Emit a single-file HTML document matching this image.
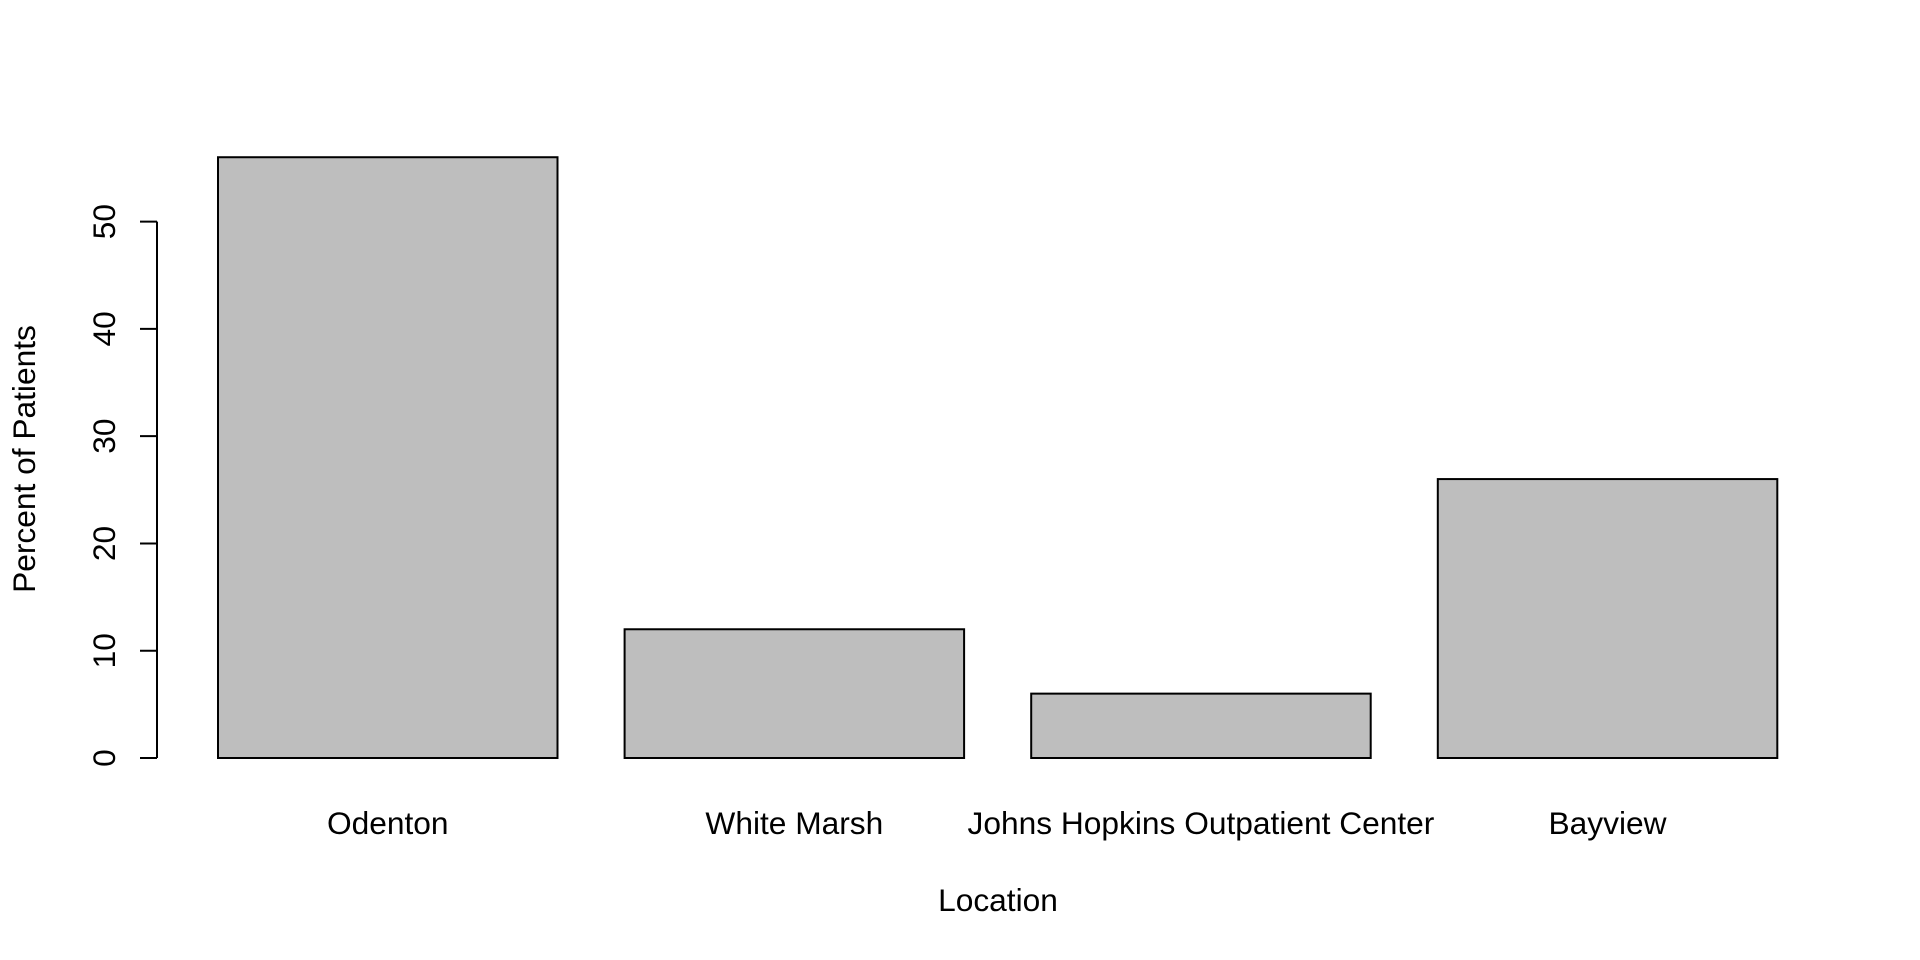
<!DOCTYPE html>
<html><head><meta charset="utf-8"><style>
html,body{margin:0;padding:0;background:#fff;}
svg{display:block;font-family:"Liberation Sans",Arial,sans-serif;}
</style></head><body>
<svg id="chart" width="1920" height="960" viewBox="0 0 1920 960" xmlns="http://www.w3.org/2000/svg">
<rect width="1920" height="960" fill="#fff"/>
<g id="bars"></g>
<g id="yaxis"></g>
<g id="xlabels"></g>
<text x="998" y="911" text-anchor="middle" font-size="31.7">Location</text>
<text transform="translate(35,459) rotate(-90)" text-anchor="middle" font-size="31.7">Percent of Patients</text>
</svg>
<script>
const categories = ["Odenton","White Marsh","Johns Hopkins Outpatient Center","Bayview"];
const values = [56, 12, 6, 26];
const yTicks = [0, 10, 20, 30, 40, 50];
const yTickLabels = ["0","10","20","30","40","50"];

const NS = "http://www.w3.org/2000/svg";
const y0px = 758, pxPerUnit = (758 - 221.6) / 50;
function yScale(v){ return y0px - v * pxPerUnit; }
const barStart = 218, barStep = 406.6, barWidth = 339.5;
function xLeft(i){ return barStart + i * barStep; }

const bars = document.getElementById('bars');
values.forEach((v, i) => {
  const r = document.createElementNS(NS, 'rect');
  r.setAttribute('x', xLeft(i));
  r.setAttribute('y', yScale(v));
  r.setAttribute('width', barWidth);
  r.setAttribute('height', yScale(0) - yScale(v));
  r.setAttribute('fill', '#bebebe');
  r.setAttribute('stroke', '#000');
  r.setAttribute('stroke-width', '2');
  
  
  bars.appendChild(r);
});

const xl = document.getElementById('xlabels');
categories.forEach((c, i) => {
  const t = document.createElementNS(NS, 'text');
  t.setAttribute('x', xLeft(i) + barWidth / 2);
  t.setAttribute('y', 834);
  t.setAttribute('text-anchor', 'middle');
  t.setAttribute('font-size', '31.7');
  t.textContent = c;
  
  
  xl.appendChild(t);
});

const ya = document.getElementById('yaxis');
const axisX = 157;
const line = document.createElementNS(NS, 'line');
line.setAttribute('x1', axisX); line.setAttribute('x2', axisX);
line.setAttribute('y1', yScale(yTicks[0])); line.setAttribute('y2', yScale(yTicks[yTicks.length - 1]));
line.setAttribute('stroke', '#000'); line.setAttribute('stroke-width', '2');


ya.appendChild(line);
yTicks.forEach((v, i) => {
  const tk = document.createElementNS(NS, 'line');
  tk.setAttribute('x1', axisX - 17); tk.setAttribute('x2', axisX);
  tk.setAttribute('y1', yScale(v)); tk.setAttribute('y2', yScale(v));
  tk.setAttribute('stroke', '#000'); tk.setAttribute('stroke-width', '2');
  
  
  ya.appendChild(tk);
  const t = document.createElementNS(NS, 'text');
  t.setAttribute('transform', 'translate(115,' + yScale(v) + ') rotate(-90)');
  t.setAttribute('text-anchor', 'middle');
  t.setAttribute('font-size', '31.7');
  t.textContent = yTickLabels[i];
  
  
  ya.appendChild(t);
});
</script>
</body></html>
